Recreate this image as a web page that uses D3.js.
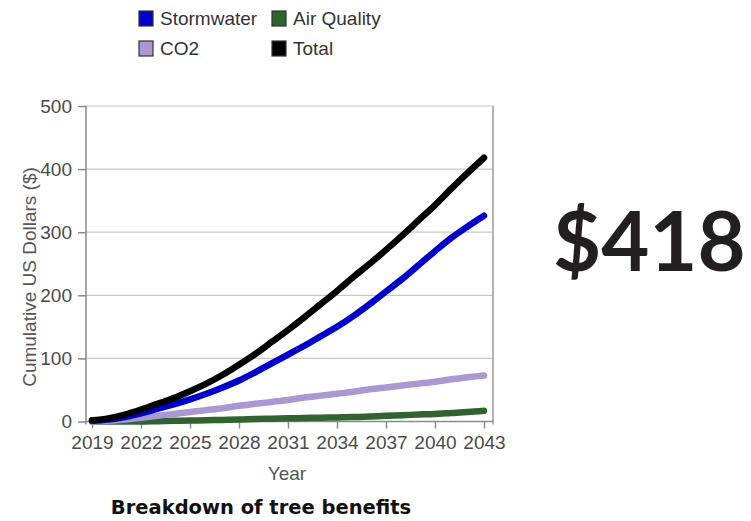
<!DOCTYPE html>
<html>
<head>
<meta charset="utf-8">
<script src="https://cdn.jsdelivr.net/npm/d3@7/dist/d3.min.js"></script>
<style>
  html, body { margin: 0; padding: 0; background: #fff; }
  svg { display: block; }
</style>
</head>
<body>
<svg id="chart" width="751" height="521"></svg>
<script>
// ---- Data ----
const years = d3.range(2019, 2044);
const stormwater = [1, 3, 7, 13, 20, 27, 35, 44, 54, 65, 78, 92, 106, 120, 135, 150, 167, 186, 206, 226, 248, 270, 291, 309, 326];
const co2 = [0, 1, 3, 6, 9, 12, 15, 18, 21, 25, 28, 31, 34, 38, 41, 44, 47, 51, 54, 57, 60, 63, 67, 70, 73];
const airQuality = [0, 0, 0, 0, 0.5, 1, 1.5, 2, 2.5, 3, 4, 4.5, 5, 5.5, 6, 6.5, 7, 8, 9, 10, 11, 12, 13.5, 15, 17];
const total = [2, 5, 11, 19, 28, 37, 48, 60, 74, 90, 107, 126, 145, 165, 186, 207, 229, 250, 272, 295, 319, 343, 369, 394, 418];
const xTicks = [2019, 2022, 2025, 2028, 2031, 2034, 2037, 2040, 2043];
const yTicks = [0, 100, 200, 300, 400, 500];
const seriesNames = ["Stormwater", "Air Quality", "CO2", "Total"];
const seriesColors = ["#0000cc", "#2f6430", "#aa98d2", "#000000"];
const chartTitle = "Breakdown of tree benefits";
const bigValue = "$418";

// ---- Layout ----
const svg = d3.select("#chart");
const plot = { left: 86, right: 493, top: 106, bottom: 421.5 };
const x = d3.scaleLinear().domain([2019, 2043]).range([92, 484]);
const y = d3.scaleLinear().domain([0, 500]).range([plot.bottom, plot.top]);
const labelFont = "'Liberation Sans', Arial, sans-serif";

// gridlines
svg.append("g").selectAll("line").data(yTicks.filter(d => d > 0)).join("line")
  .attr("x1", plot.left).attr("x2", plot.right)
  .attr("y1", d => y(d)).attr("y2", d => y(d))
  .attr("stroke", "#c8c8c8").attr("stroke-width", 1.2);

// frame: right border
svg.append("line").attr("x1", plot.right).attr("x2", plot.right)
  .attr("y1", plot.top).attr("y2", plot.bottom + 3)
  .attr("stroke", "#9a9a9a").attr("stroke-width", 1.5);

// y axis
const yAxis = svg.append("g").attr("transform", `translate(${plot.left},0)`)
  .call(d3.axisLeft(y).tickValues(yTicks).tickSize(8).tickPadding(6).tickFormat(d3.format("d")));
yAxis.select(".domain").attr("stroke", "#8a8a8a").attr("stroke-width", 1.5)
  .attr("d", `M0,${plot.top}V${plot.bottom + 3}`);
yAxis.selectAll(".tick line").attr("stroke", "#8a8a8a").attr("stroke-width", 1.5);
yAxis.selectAll(".tick text").attr("fill", "#4a4a4a").style("font-family", labelFont).style("font-size", "19px");

// x axis
const xAxis = svg.append("g").attr("transform", `translate(0,${plot.bottom})`)
  .call(d3.axisBottom(x).tickValues(xTicks).tickSize(7).tickPadding(7).tickFormat(d3.format("d")));
xAxis.select(".domain").attr("stroke", "#8a8a8a").attr("stroke-width", 1.5)
  .attr("d", `M${plot.left},0H${plot.right}`);
xAxis.selectAll(".tick line").attr("stroke", "#8a8a8a").attr("stroke-width", 1.5);
xAxis.selectAll(".tick text").attr("fill", "#4a4a4a").style("font-family", labelFont).style("font-size", "19px");

// axis titles
svg.append("text").attr("transform", "translate(36,277) rotate(-90)")
  .attr("text-anchor", "middle").attr("fill", "#555")
  .style("font-family", labelFont).style("font-size", "19px")
  .text("Cumulative US Dollars ($)");
svg.append("text").attr("x", 287).attr("y", 480)
  .attr("text-anchor", "middle").attr("fill", "#555")
  .style("font-family", labelFont).style("font-size", "19px")
  .text("Year");

// lines
const seriesData = [airQuality, co2, stormwater, total];
const seriesDrawColors = [seriesColors[1], seriesColors[2], seriesColors[0], seriesColors[3]];
const line = d3.line().x((d, i) => x(years[i])).y(d => y(d)).curve(d3.curveMonotoneX);
svg.append("g").selectAll("path").data(seriesData).join("path")
  .attr("d", d => line(d))
  .attr("fill", "none")
  .attr("stroke", (d, i) => seriesDrawColors[i])
  .attr("stroke-width", 6.5)
  .attr("stroke-linecap", "round")
  .attr("stroke-linejoin", "round");

// legend
const legendPos = [[139, 11], [272, 11], [139, 41], [272, 41]];
const legendOrder = [0, 1, 2, 3]; // Stormwater, Air Quality, CO2, Total
const lg = svg.append("g");
legendOrder.forEach((s, k) => {
  const [lx, ly] = legendPos[k];
  lg.append("rect").attr("x", lx).attr("y", ly).attr("width", 14).attr("height", 15)
    .attr("fill", seriesColors[s]).attr("stroke", "#333").attr("stroke-width", 1.2);
  lg.append("text").attr("x", lx + 21).attr("y", ly + 14)
    .attr("fill", "#333").style("font-family", labelFont).style("font-size", "19px")
    .text(seriesNames[s]);
});

// title
svg.append("text").attr("x", 261).attr("y", 514).attr("text-anchor", "middle")
  .attr("fill", "#111").style("font-family", "'DejaVu Sans', Verdana, sans-serif")
  .style("font-weight", "bold").style("font-size", "19.5px")
  .text(chartTitle);

// big value
svg.append("text").attr("x", 553).attr("y", 271)
  .attr("fill", "#231f20").style("font-family", "Lato, 'Open Sans', sans-serif")
  .style("font-weight", "bold").style("font-size", "83px")
  .text(bigValue);
</script>
</body>
</html>
